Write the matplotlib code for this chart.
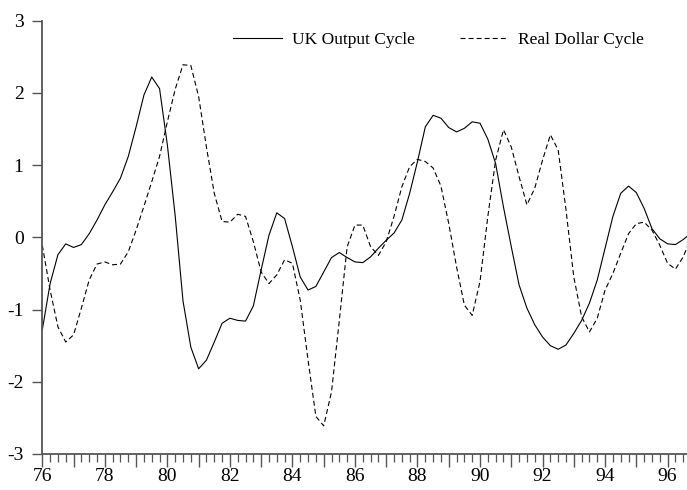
import numpy as np
import matplotlib
matplotlib.use('Agg')
import matplotlib.pyplot as plt
from matplotlib.ticker import MultipleLocator, FuncFormatter

# quarterly, 1976Q1 .. 1996Q4
start_year = 1976
uk_output = [-1.28, -0.64, -0.24, -0.09, -0.14, -0.10, 0.05, 0.24,
             0.45, 0.63, 0.82, 1.12, 1.53, 1.97, 2.22, 2.06,
             1.28, 0.30, -0.88, -1.52, -1.82, -1.70, -1.45, -1.19,
             -1.12, -1.15, -1.16, -0.95, -0.45, 0.03, 0.34, 0.26,
             -0.13, -0.55, -0.73, -0.68, -0.48, -0.28, -0.21, -0.28,
             -0.34, -0.35, -0.27, -0.15, -0.04, 0.06, 0.24, 0.61,
             1.05, 1.53, 1.69, 1.65, 1.52, 1.46, 1.51, 1.60,
             1.58, 1.36, 1.02, 0.42, -0.13, -0.66, -0.98, -1.21,
             -1.38, -1.50, -1.55, -1.49, -1.33, -1.15, -0.91, -0.59,
             -0.15, 0.29, 0.61, 0.71, 0.62, 0.40, 0.12, -0.02,
             -0.09, -0.10, -0.03, 0.06]
real_dollar = [-0.11, -0.73, -1.24, -1.45, -1.35, -0.98, -0.59, -0.37,
               -0.34, -0.38, -0.37, -0.20, 0.10, 0.43, 0.77, 1.12,
               1.60, 2.05, 2.39, 2.38, 1.95, 1.25, 0.61, 0.22,
               0.21, 0.32, 0.29, -0.06, -0.48, -0.64, -0.52, -0.31,
               -0.36, -0.87, -1.70, -2.48, -2.61, -2.14, -1.15, -0.13,
               0.17, 0.17, -0.13, -0.25, -0.06, 0.29, 0.70, 0.98,
               1.08, 1.05, 0.96, 0.71, 0.19, -0.41, -0.94, -1.08,
               -0.61, 0.29, 1.07, 1.49, 1.25, 0.84, 0.45, 0.68,
               1.07, 1.42, 1.21, 0.38, -0.55, -1.10, -1.31, -1.12,
               -0.73, -0.50, -0.22, 0.05, 0.19, 0.21, 0.10, -0.11,
               -0.36, -0.44, -0.27, 0.00]
labels = ['UK Output Cycle', 'Real Dollar Cycle']

plt.rcParams['font.family'] = ['Liberation Serif', 'DejaVu Serif']
plt.rcParams['lines.scale_dashes'] = False

t = start_year + np.arange(len(uk_output)) / 4.0

fig = plt.figure(figsize=(6.87, 4.9), dpi=100)
ax = fig.add_axes([42.3/687, 1-454/490, 1-42.3/687, (454-20.7)/490])

ax.plot(t, uk_output, color='black', lw=0.8, label=labels[0])
ax.plot(t, real_dollar, color='black', lw=0.8, ls=(0, (3.6, 2.2)), label=labels[1])

ax.set_xlim(1976, 1996.62)
ax.set_ylim(-3, 3)

for s in ['top', 'right']:
	ax.spines[s].set_visible(False)
for s in ['left', 'bottom']:
	ax.spines[s].set_color('#555555')
	ax.spines[s].set_linewidth(1.3)

ax.xaxis.set_major_locator(MultipleLocator(1))
ax.xaxis.set_minor_locator(MultipleLocator(0.25))
ax.xaxis.set_major_formatter(FuncFormatter(lambda v, p: '%02d' % (int(round(v)) % 100) if int(round(v)) % 2 == 0 else ''))
ax.yaxis.set_major_locator(MultipleLocator(1))
ax.yaxis.set_major_formatter(FuncFormatter(lambda v, p: '%d' % v))

ax.tick_params(axis='x', which='major', direction='out', length=9, width=1.0, color='#555555', labelsize=14, pad=1)
ax.tick_params(axis='x', which='minor', direction='out', length=5.5, width=0.9, color='#555555')
ax.tick_params(axis='y', which='major', direction='out', length=7, width=1.0, color='#555555', labelsize=14, pad=6.5)

ax.legend(loc='center left', bbox_to_anchor=(233/687, 1-40/490), bbox_transform=fig.transFigure,
	ncol=2, frameon=False, fontsize=12.5, handlelength=2.8, handletextpad=0.58,
	columnspacing=2.6, borderpad=0, borderaxespad=0)

fig.savefig('out.png', dpi=100)
